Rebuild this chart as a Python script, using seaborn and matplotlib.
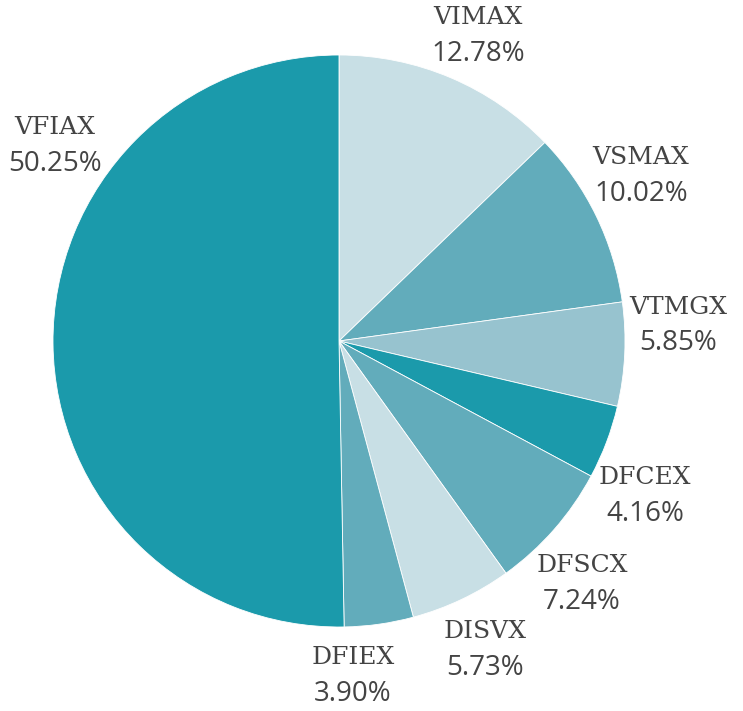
import matplotlib
matplotlib.use("Agg")
import matplotlib.pyplot as plt
import seaborn as sns

# fund names and weights (%), clockwise from 12 o'clock
funds = ["VIMAX", "VSMAX", "VTMGX", "DFCEX", "DFSCX", "DISVX", "DFIEX", "VFIAX"]
weights = [12.78, 10.02, 5.85, 4.16, 7.24, 5.73, 3.90, 50.25]
pct_labels = ["12.78%", "10.02%", "5.85%", "4.16%", "7.24%", "5.73%", "3.90%", "50.25%"]

colors = ["#c8dfe5", "#62acbb", "#97c3cf", "#1b9aab",
          "#62acbb", "#c8dfe5", "#62acbb", "#1b9aab"]

# label anchor points in pixels (x, y from top), name line / percent line
label_pos = [(478, 18), (641, 158), (678, 307), (645, 478),
             (582, 566), (485, 632), (353, 658), (55, 128)]
line_gap = 36

sns.set_theme(style="white")

W, H = 743, 711
fig = plt.figure(figsize=(W / 100, H / 100), dpi=100)
ax = fig.add_axes([0, 0, 1, 1])

ax.pie(weights, colors=colors, startangle=90, counterclock=False,
       radius=286, center=(339, H - 341), frame=True,
       wedgeprops=dict(edgecolor="white", linewidth=0.6))

ax.set_xlim(0, W)
ax.set_ylim(0, H)
ax.set_aspect("equal")
ax.axis("off")

for name, pct, (x, y) in zip(funds, pct_labels, label_pos):
    ax.text(x, H - y, name, ha="center", va="center", fontsize=18,
            family="DejaVu Serif", color="#444444")
    ax.text(x, H - y - line_gap, pct, ha="center", va="center", fontsize=20,
            family="Open Sans", color="#444444")

fig.savefig("out.png", dpi=100)
